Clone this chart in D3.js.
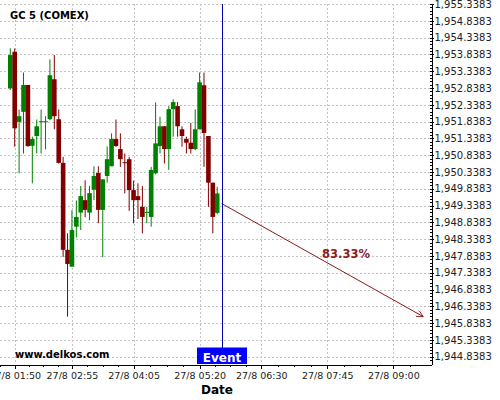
<!DOCTYPE html>
<html>
<head>
<meta charset="utf-8">
<script src="https://cdn.jsdelivr.net/npm/d3@7"></script>
<style>
  body { margin: 0; background: #fff; }
  svg { display: block; font-family: "DejaVu Sans", sans-serif; }
</style>
</head>
<body>
<div id="chart"></div>
<script>
// candle data, 5 minute bars on 27/8
var times = ["01:45","01:50","01:55","02:00","02:05","02:10","02:15","02:20","02:25","02:30",
             "02:35","02:40","02:45","02:50","02:55","03:00","03:05","03:10","03:15","03:20",
             "03:25","03:30","03:35","03:40","03:45","03:50","03:55","04:00","04:05","04:10",
             "04:15","04:20","04:25","04:30","04:35","04:40","04:45","04:50","04:55","05:00",
             "05:05","05:10","05:15","05:20","05:25","05:30","05:35","05:40"];
var opens  = [1952.83,1953.92,1951.83,1952.13,1952.93,1951.12,1951.41,1951.84,1951.84,1951.91,
              1953.10,1951.91,1950.61,1948.02,1947.52,1948.71,1949.13,1949.50,1949.13,1949.81,
              1950.31,1949.21,1950.22,1950.51,1951.32,1951.02,1950.63,1950.72,1949.80,1949.62,
              1949.30,1949.14,1949.00,1950.30,1951.11,1951.70,1951.02,1952.21,1952.30,1951.61,
              1951.32,1951.21,1951.02,1951.61,1952.92,1951.41,1950.02,1949.12];
var highs  = [1954.02,1954.02,1952.20,1953.30,1952.93,1951.39,1951.90,1952.20,1952.00,1953.69,
              1953.82,1952.20,1950.79,1948.51,1949.20,1949.49,1949.92,1950.09,1949.92,1950.51,
              1950.51,1950.12,1951.10,1951.49,1951.90,1951.49,1950.89,1950.79,1950.08,1950.00,
              1949.92,1949.30,1950.49,1952.41,1951.98,1951.70,1952.30,1952.50,1952.42,1951.70,
              1951.39,1951.80,1952.20,1953.30,1953.30,1951.41,1950.02,1949.90];
var lows   = [1952.78,1951.09,1950.30,1950.89,1951.09,1950.00,1950.89,1950.89,1951.01,1951.88,
              1951.61,1950.59,1947.81,1946.03,1947.52,1948.39,1948.61,1948.99,1948.90,1949.50,
              1948.81,1947.80,1950.02,1950.51,1951.09,1950.49,1949.70,1949.18,1948.81,1948.94,
              1948.51,1948.81,1948.71,1950.27,1950.89,1950.59,1950.40,1951.39,1951.39,1951.09,
              1950.89,1950.89,1950.99,1951.61,1950.49,1949.30,1948.51,1949.08];
var closes = [1953.82,1951.64,1952.00,1952.93,1951.11,1951.32,1951.70,1951.85,1951.85,1953.22,
              1952.00,1950.61,1948.02,1947.60,1948.61,1949.00,1949.62,1949.21,1949.71,1950.22,
              1949.21,1950.12,1950.72,1951.32,1951.11,1950.72,1950.61,1949.80,1949.50,1949.50,
              1949.00,1949.15,1950.40,1951.19,1951.70,1951.02,1952.21,1952.42,1951.70,1951.41,
              1951.21,1951.02,1951.61,1953.01,1951.50,1950.02,1949.00,1949.70];

var yTicks = [1944.8383,1945.3383,1945.8383,1946.3383,1946.8383,1947.3383,1947.8383,1948.3383,
              1948.8383,1949.3383,1949.8383,1950.3383,1950.8383,1951.3383,1951.8383,1952.3383,
              1952.8383,1953.3383,1953.8383,1954.3383,1954.8383,1955.3383];
var xTickTimes = ["01:50","02:55","04:05","05:20","06:30","07:45","09:00"];

var eventTime = "05:45";
var forecastEnd = { time: "09:34", price: 1946.03 };
var forecastStart = 1949.40;
var forecastLabel = "83.33%";

var title = "GC 5 (COMEX)";
var watermark = "www.delkos.com";

var parseT = function(s) { return d3.timeParse("%Y-%m-%d %H:%M:%S")("2020-08-27 " + (s.length == 5 ? s + ":00" : s)); };

var candles = times.map(function(t, i) {
  return { t: parseT(t), o: opens[i], h: highs[i], l: lows[i], c: closes[i] };
});

var width = 500, height = 400;
var plot = { left: 0, right: 431, top: 4, bottom: 364 };

var svg = d3.select("#chart").append("svg")
  .attr("width", width)
  .attr("height", height);

var x = d3.scaleTime()
  .domain([parseT("01:33:18"), parseT("09:42:48")])
  .range([plot.left, plot.right]);

var y = d3.scaleLinear()
  .domain([1944.621, 1955.341])
  .range([plot.bottom, plot.top]);

var green = "#008000", red = "#800000";
var gridColor = "#c4c4c4";

// grid lines
var grid = svg.append("g").attr("shape-rendering", "crispEdges");
grid.selectAll("line.h")
  .data(yTicks)
  .enter().append("line")
    .attr("class", "h")
    .attr("x1", plot.left).attr("x2", plot.right)
    .attr("y1", function(d) { return Math.round(y(d)) + 0.5; })
    .attr("y2", function(d) { return Math.round(y(d)) + 0.5; })
    .attr("stroke", gridColor)
    .attr("stroke-dasharray", "2,2");

grid.selectAll("line.v")
  .data(xTickTimes)
  .enter().append("line")
    .attr("class", "v")
    .attr("x1", function(d) { return Math.round(x(parseT(d))) + 0.5; })
    .attr("x2", function(d) { return Math.round(x(parseT(d))) + 0.5; })
    .attr("y1", plot.top).attr("y2", plot.bottom)
    .attr("stroke", gridColor)
    .attr("stroke-dasharray", "2,2");

// candles
var bw = 4.6;
var cg = svg.append("g");
cg.selectAll("line.wick")
  .data(candles)
  .enter().append("line")
    .attr("class", "wick")
    .attr("x1", function(d) { return x(d.t); })
    .attr("x2", function(d) { return x(d.t); })
    .attr("y1", function(d) { return y(d.h); })
    .attr("y2", function(d) { return y(d.l); })
    .attr("stroke", function(d) { return d.c >= d.o ? green : red; })
    .attr("stroke-width", 1);

cg.selectAll("rect")
  .data(candles)
  .enter().append("rect")
    .attr("x", function(d) { return x(d.t) - bw / 2; })
    .attr("y", function(d) { return y(Math.max(d.o, d.c)); })
    .attr("width", bw)
    .attr("height", function(d) { return Math.max(1, Math.abs(y(d.o) - y(d.c))); })
    .attr("fill", function(d) { return d.c >= d.o ? green : red; });

// forecast arrow
var arrowColor = "#8b1a1a";
svg.append("defs").append("marker")
  .attr("id", "arrow")
  .attr("viewBox", "0 0 10 10")
  .attr("refX", 10).attr("refY", 5)
  .attr("markerWidth", 9).attr("markerHeight", 7)
  .attr("markerUnits", "userSpaceOnUse")
  .attr("orient", "auto")
  .append("path")
    .attr("d", "M0,0 L10,5 L0,10")
    .attr("fill", "none")
    .attr("stroke", arrowColor)
    .attr("stroke-width", 1.2);

svg.append("line")
  .attr("x1", x(parseT(eventTime)))
  .attr("y1", y(forecastStart))
  .attr("x2", x(parseT(forecastEnd.time)))
  .attr("y2", y(forecastEnd.price))
  .attr("stroke", arrowColor)
  .attr("stroke-width", 1)
  .attr("marker-end", "url(#arrow)");

svg.append("text")
  .attr("x", 346)
  .attr("y", 258)
  .attr("text-anchor", "middle")
  .attr("fill", arrowColor)
  .style("font-size", "11.5px")
  .style("font-weight", "bold")
  .text(forecastLabel);

// event line
var ex = Math.round(x(parseT(eventTime))) + 0.5;
svg.append("line")
  .attr("x1", ex).attr("x2", ex)
  .attr("y1", plot.top).attr("y2", plot.bottom)
  .attr("stroke", "#0000b0")
  .attr("stroke-width", 1);

svg.append("rect")
  .attr("x", ex - 25.5)
  .attr("y", plot.bottom - 16.5)
  .attr("width", 50)
  .attr("height", 16.5)
  .attr("fill", "#0000ff");

svg.append("text")
  .attr("x", ex - 0.5)
  .attr("y", plot.bottom - 2.5)
  .attr("text-anchor", "middle")
  .attr("fill", "#fff")
  .style("font-size", "12px")
  .style("font-weight", "bold")
  .text("Event");

// axes
var yAxis = d3.axisRight(y)
  .tickValues(yTicks)
  .tickSize(2)
  .tickSizeOuter(0)
  .tickFormat(d3.format(",.4f"));

var minorY = d3.range(1944.7383, 1955.35, 0.1);
var yMinor = d3.axisLeft(y).tickValues(minorY).tickSize(2).tickSizeOuter(0).tickFormat("");

var yG = svg.append("g")
  .attr("transform", "translate(" + (plot.right + 0.5) + ",0)")
  .attr("shape-rendering", "crispEdges");
yG.call(yMinor);
yG.append("g").call(yAxis);
yG.selectAll("text")
  .attr("x", 3)
  .style("font-size", "10px")
  .style("font-family", "DejaVu Sans")
  .attr("fill", "#222");

var xMajor = xTickTimes.map(parseT);
var xMinorT = [];
for (var i = 0; i < xMajor.length - 1; i++) {
  for (var k = 1; k < 4; k++) {
    xMinorT.push(new Date(+xMajor[i] + (xMajor[i + 1] - xMajor[i]) * k / 4));
  }
}
xMinorT.push(new Date(+xMajor[xMajor.length - 1] + (xMajor[xMajor.length - 1] - xMajor[xMajor.length - 2]) / 4));
xMinorT.push(new Date(+xMajor[0] - (xMajor[1] - xMajor[0]) / 4));

var xAxis = d3.axisBottom(x)
  .tickValues(xMajor)
  .tickSize(4)
  .tickSizeOuter(0)
  .tickFormat(d3.timeFormat("%-d/%-m %H:%M"));
var xMinorAxis = d3.axisBottom(x).tickValues(xMinorT).tickSize(2).tickSizeOuter(0).tickFormat("");

var xG = svg.append("g")
  .attr("transform", "translate(0," + (plot.bottom + 0.5) + ")")
  .attr("shape-rendering", "crispEdges");
xG.call(xMinorAxis);
xG.append("g").call(xAxis);
xG.selectAll("text")
  .attr("y", 8)
  .style("font-size", "9.5px")
  .style("font-family", "DejaVu Sans")
  .attr("fill", "#222");

// labels
svg.append("text")
  .attr("x", 10).attr("y", 19)
  .style("font-size", "10px")
  .style("font-weight", "bold")
  .text(title);

svg.append("text")
  .attr("x", 15).attr("y", 357.5)
  .style("font-size", "10px")
  .style("font-weight", "bold")
  .text(watermark);

svg.append("text")
  .attr("x", 217).attr("y", 394)
  .attr("text-anchor", "middle")
  .style("font-size", "12px")
  .style("font-weight", "bold")
  .text("Date");
</script>
</body>
</html>
